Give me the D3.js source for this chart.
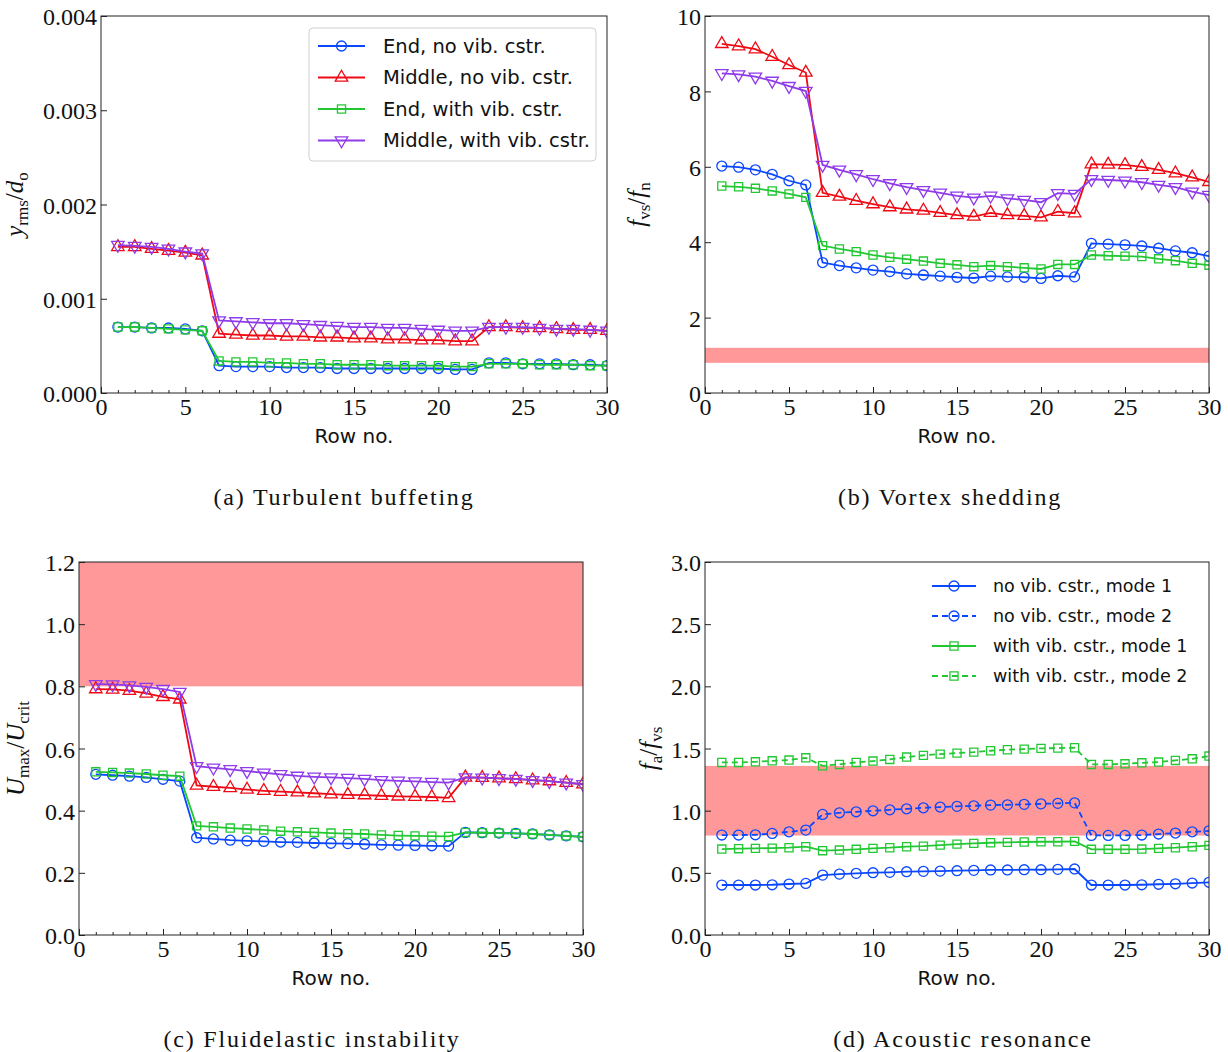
<!DOCTYPE html>
<html>
<head>
<meta charset="utf-8">
<script src="https://cdn.jsdelivr.net/npm/d3@7"></script>
<style>
  body { margin: 0; background: #fff; }
  .tick text { font-family: "Liberation Serif", serif; font-size: 24px; fill: #111; }
  .tick line { stroke: #222; }
</style>
</head>
<body>
<svg id="fig" width="1228" height="1052"></svg>
<script>
const rows = [1,2,3,4,5,6,7,8,9,10,11,12,13,14,15,16,17,18,19,20,21,22,23,24,25,26,27,28,29,30];

// (a) turbulent buffeting, y_rms / d_o
const buffEndNo   = [0.00070,0.00070,0.00069,0.00069,0.00068,0.00066, 0.00029,0.00028,0.00028,0.00028,0.00027,0.00027,0.00027,0.00026,0.00026,0.00026,0.00026,0.00026,0.00026,0.00026,0.00025,0.00025, 0.00032,0.00032,0.00031,0.00031,0.00031,0.00030,0.00030,0.00029];
const buffMidNo   = [0.00155,0.00155,0.00153,0.00151,0.00149,0.00146, 0.00063,0.00062,0.00061,0.00061,0.00060,0.00060,0.00059,0.00059,0.00058,0.00058,0.00057,0.00057,0.00056,0.00056,0.00055,0.00055, 0.00070,0.00070,0.00069,0.00069,0.00068,0.00067,0.00067,0.00066];
const buffEndWith = [0.00070,0.00070,0.00069,0.00068,0.00067,0.00066, 0.00034,0.00033,0.00033,0.00032,0.00032,0.00031,0.00031,0.00030,0.00030,0.00030,0.00029,0.00029,0.00029,0.00029,0.00028,0.00028, 0.00031,0.00031,0.00031,0.00030,0.00030,0.00030,0.00029,0.00029];
const buffMidWith = [0.00157,0.00156,0.00155,0.00153,0.00150,0.00148, 0.00077,0.00076,0.00075,0.00074,0.00074,0.00073,0.00072,0.00071,0.00070,0.00070,0.00069,0.00069,0.00068,0.00067,0.00066,0.00066, 0.00070,0.00070,0.00070,0.00069,0.00068,0.00068,0.00067,0.00066];

// (b) vortex shedding, f_vs / f_n
const vsEndNo   = [6.02,5.99,5.92,5.80,5.63,5.52, 3.46,3.38,3.32,3.26,3.22,3.16,3.13,3.10,3.07,3.05,3.10,3.08,3.07,3.04,3.11,3.08, 3.97,3.95,3.93,3.90,3.84,3.77,3.72,3.63];
const vsMidNo   = [9.26,9.20,9.12,8.92,8.70,8.50, 5.31,5.21,5.10,5.01,4.93,4.87,4.84,4.78,4.72,4.68,4.78,4.72,4.70,4.66,4.81,4.77, 6.07,6.06,6.05,6.00,5.92,5.83,5.72,5.60];
const vsEndWith = [5.49,5.47,5.43,5.36,5.28,5.19, 3.91,3.82,3.75,3.66,3.60,3.55,3.50,3.44,3.40,3.35,3.38,3.35,3.32,3.29,3.41,3.41, 3.66,3.64,3.63,3.62,3.56,3.51,3.44,3.39];
const vsMidWith = [8.48,8.45,8.39,8.28,8.14,8.01, 6.05,5.92,5.80,5.67,5.56,5.46,5.38,5.31,5.23,5.18,5.23,5.16,5.12,5.06,5.30,5.28, 5.67,5.65,5.63,5.59,5.52,5.46,5.34,5.25];
const vsBand = [0.8, 1.2];

// (c) fluidelastic instability, U_max / U_crit
const feiEndNo   = [0.517,0.514,0.511,0.507,0.501,0.495, 0.313,0.309,0.305,0.303,0.301,0.299,0.298,0.296,0.295,0.294,0.292,0.290,0.289,0.288,0.287,0.286, 0.330,0.329,0.328,0.327,0.325,0.322,0.319,0.316];
const feiMidNo   = [0.791,0.790,0.786,0.777,0.766,0.758, 0.481,0.477,0.473,0.468,0.464,0.461,0.459,0.456,0.453,0.451,0.450,0.448,0.446,0.445,0.444,0.441, 0.507,0.506,0.504,0.502,0.498,0.495,0.490,0.485];
const feiEndWith = [0.525,0.523,0.521,0.518,0.514,0.511, 0.351,0.348,0.344,0.341,0.338,0.334,0.332,0.330,0.328,0.326,0.325,0.322,0.320,0.319,0.318,0.317, 0.330,0.329,0.328,0.327,0.325,0.322,0.319,0.316];
const feiMidWith = [0.807,0.806,0.803,0.798,0.791,0.782, 0.543,0.538,0.533,0.527,0.522,0.517,0.512,0.509,0.507,0.505,0.502,0.498,0.496,0.494,0.492,0.490, 0.507,0.506,0.504,0.502,0.498,0.495,0.490,0.485];
const feiBand = [0.8, 1.2];

// (d) acoustic resonance, f_a / f_vs
const arNoM1   = [0.402,0.402,0.402,0.404,0.410,0.415, 0.482,0.490,0.496,0.501,0.504,0.509,0.512,0.514,0.517,0.520,0.523,0.523,0.525,0.525,0.528,0.531, 0.402,0.402,0.402,0.404,0.408,0.412,0.418,0.424];
const arNoM2   = [0.804,0.804,0.806,0.817,0.830,0.844, 0.970,0.983,0.991,0.999,1.007,1.015,1.023,1.029,1.035,1.039,1.045,1.047,1.051,1.055,1.059,1.063, 0.801,0.801,0.801,0.804,0.812,0.820,0.830,0.838];
const arWithM1 = [0.691,0.694,0.697,0.699,0.702,0.710, 0.678,0.683,0.689,0.697,0.702,0.710,0.715,0.723,0.731,0.737,0.742,0.745,0.748,0.750,0.750,0.753, 0.689,0.689,0.689,0.691,0.697,0.702,0.710,0.721];
const arWithM2 = [1.388,1.388,1.393,1.401,1.407,1.425, 1.361,1.372,1.388,1.399,1.412,1.431,1.445,1.455,1.463,1.471,1.482,1.490,1.495,1.501,1.503,1.506, 1.372,1.372,1.377,1.385,1.391,1.404,1.417,1.439];
const arBand = [0.8, 1.36];

const xTicks = [0, 5, 10, 15, 20, 25, 30];
const buffTicks = [0, 0.001, 0.002, 0.003, 0.004];
const vsTicks = [0, 2, 4, 6, 8, 10];
const feiTicks = [0, 0.2, 0.4, 0.6, 0.8, 1.0, 1.2];
const arTicks = [0, 0.5, 1.0, 1.5, 2.0, 2.5, 3.0];

const legendCases = ['End, no vib. cstr.', 'Middle, no vib. cstr.', 'End, with vib. cstr.', 'Middle, with vib. cstr.'];
const legendModes = ['no vib. cstr., mode 1', 'no vib. cstr., mode 2', 'with vib. cstr., mode 1', 'with vib. cstr., mode 2'];

const BLUE = '#0a47ff', RED = '#ee0a14', GREEN = '#22c832', PURPLE = '#8f3bea', BAND = '#ff9999';

const svg = d3.select('#fig');
const defs = svg.append('defs');

const shapes = {
  circle: d3.symbol(d3.symbolCircle, 78),
  triUp: d3.symbol(d3.symbolTriangle, 68),
  triDown: d3.symbol(d3.symbolTriangle, 68),
  square: d3.symbol(d3.symbolSquare, 66)
};

function drawMarker(g, shape, x, y, color) {
  g.append('path').attr('d', shapes[shape]())
    .attr('transform', `translate(${x},${y})` + (shape === 'triDown' ? ' rotate(180)' : ''))
    .attr('fill', 'none').attr('stroke', color).attr('stroke-width', 1.3);
}

function mathLabel(g, parts) {
  // each part: [text, kind] - 'i' italic, 'sub' subscript, 'after' back to baseline
  const t = g.append('text').attr('font-family', '"Liberation Serif", serif').attr('font-size', 25).attr('fill', '#111');
  parts.forEach(([s, kind]) => {
    const sp = t.append('tspan').text(s);
    if (kind === 'i') sp.attr('font-style', 'italic');
    if (kind === 'sub') sp.attr('font-size', 17).attr('dy', 5);
    if (kind === 'after') sp.attr('dy', -5);
  });
  return t;
}

function drawPanel(p) {
  const g = svg.append('g').attr('transform', `translate(${p.left},${p.top})`);
  const x = d3.scaleLinear().domain([0, 30]).range([0, p.width]);
  const y = d3.scaleLinear().domain(p.yDomain).range([p.height, 0]);

  const clipId = 'clip-' + p.id;
  defs.append('clipPath').attr('id', clipId).append('rect').attr('width', p.width).attr('height', p.height);
  const plot = g.append('g').attr('clip-path', `url(#${clipId})`);

  if (p.band) {
    plot.append('rect').attr('x', 0).attr('width', p.width)
      .attr('y', y(p.band[1])).attr('height', y(p.band[0]) - y(p.band[1]))
      .attr('fill', BAND);
  }

  const line = d3.line().x((d, i) => x(rows[i])).y(d => y(d));
  p.series.forEach(s => {
    plot.append('path').datum(s.values).attr('d', line)
      .attr('fill', 'none').attr('stroke', s.color).attr('stroke-width', 1.8)
      .attr('stroke-dasharray', s.dash ? '6,4' : null);
    const mg = plot.append('g');
    s.values.forEach((v, i) => drawMarker(mg, s.shape, x(rows[i]), y(v), s.color));
  });

  // axes, ticks pointing inwards
  const xAxis = g.append('g').attr('transform', `translate(0,${p.height})`)
    .call(d3.axisBottom(x).tickValues(xTicks).tickFormat(d3.format('d')).tickSizeInner(-6).tickSizeOuter(0).tickPadding(5));
  xAxis.select('.domain').remove();
  const xMinor = g.append('g').attr('transform', `translate(0,${p.height})`)
    .call(d3.axisBottom(x).tickValues(rows.filter(r => r % 5 !== 0)).tickFormat('').tickSizeInner(-3).tickSizeOuter(0));
  xMinor.select('.domain').remove();

  const yAxis = g.append('g')
    .call(d3.axisLeft(y).tickValues(p.yTicks).tickFormat(d3.format(p.yFmt)).tickSizeInner(-6).tickSizeOuter(0).tickPadding(4));
  yAxis.select('.domain').remove();
  yAxis.selectAll('.tick text').attr('dy', '0.36em');

  g.append('rect').attr('width', p.width).attr('height', p.height)
    .attr('fill', 'none').attr('stroke', '#222').attr('stroke-width', 1);

  g.append('text').attr('x', p.width / 2).attr('y', p.height + 50)
    .attr('text-anchor', 'middle').attr('font-family', '"DejaVu Sans", sans-serif').attr('font-size', 20)
    .attr('fill', '#111').text('Row no.');

  mathLabel(g, p.yLabel)
    .attr('text-anchor', 'middle')
    .attr('transform', `translate(${p.yLabelX},${p.height / 2}) rotate(-90)`);

  svg.append('text').attr('x', p.captionX).attr('y', p.top + p.height + 112)
    .attr('text-anchor', 'middle').attr('font-family', '"Liberation Serif", serif')
    .attr('font-size', 24).attr('letter-spacing', 1.8).attr('fill', '#111').text(p.caption);

  if (p.legend) {
    const L = p.legend;
    const lg = g.append('g').attr('transform', `translate(${L.x},${L.y})`);
    if (L.frame) {
      lg.append('rect').attr('x', 0).attr('y', 0).attr('width', L.w).attr('height', L.h)
        .attr('rx', 4).attr('fill', '#fff').attr('fill-opacity', 0.8).attr('stroke', '#d0d0d0').attr('stroke-width', 1);
    }
    p.series.forEach((s, i) => {
      const cy = L.row0 + i * L.step;
      lg.append('line').attr('x1', L.lx).attr('x2', L.lx + L.lw)
        .attr('y1', cy).attr('y2', cy).attr('stroke', s.color).attr('stroke-width', 1.8)
        .attr('stroke-dasharray', s.dash ? '6,4' : null);
      drawMarker(lg, s.shape, L.lx + L.lw / 2, cy, s.color);
      lg.append('text').attr('x', L.tx).attr('y', cy).attr('dy', '0.35em')
        .attr('font-family', '"DejaVu Sans", sans-serif').attr('font-size', L.fs).attr('fill', '#111')
        .text(L.labels[i]);
    });
  }
}

drawPanel({
  id: 'a', left: 101, top: 16, width: 506, height: 377,
  yDomain: [0, 0.004], yTicks: buffTicks, yFmt: '.3f',
  yLabel: [['y', 'i'], ['rms', 'sub'], ['/', 'after'], ['d', 'i'], ['o', 'sub']], yLabelX: -78,
  caption: '(a) Turbulent buffeting', captionX: 344,
  series: [
    { values: buffEndNo, color: BLUE, shape: 'circle' },
    { values: buffMidNo, color: RED, shape: 'triUp' },
    { values: buffEndWith, color: GREEN, shape: 'square' },
    { values: buffMidWith, color: PURPLE, shape: 'triDown' }
  ],
  legend: { x: 208, y: 12, w: 287, h: 133, frame: true, row0: 18, step: 31.5, lx: 9, lw: 47, tx: 74, fs: 19.5, labels: legendCases }
});

drawPanel({
  id: 'b', left: 705, top: 16, width: 504, height: 377,
  yDomain: [0, 10], yTicks: vsTicks, yFmt: 'd',
  yLabel: [['f', 'i'], ['vs', 'sub'], ['/', 'after'], ['f', 'i'], ['n', 'sub']], yLabelX: -60,
  caption: '(b) Vortex shedding', captionX: 950, band: vsBand,
  series: [
    { values: vsEndNo, color: BLUE, shape: 'circle' },
    { values: vsMidNo, color: RED, shape: 'triUp' },
    { values: vsEndWith, color: GREEN, shape: 'square' },
    { values: vsMidWith, color: PURPLE, shape: 'triDown' }
  ]
});

drawPanel({
  id: 'c', left: 79, top: 562, width: 504, height: 373,
  yDomain: [0, 1.2], yTicks: feiTicks, yFmt: '.1f',
  yLabel: [['U', 'i'], ['max', 'sub'], ['/', 'after'], ['U', 'i'], ['crit', 'sub']], yLabelX: -55,
  caption: '(c) Fluidelastic instability', captionX: 312, band: feiBand,
  series: [
    { values: feiEndNo, color: BLUE, shape: 'circle' },
    { values: feiMidNo, color: RED, shape: 'triUp' },
    { values: feiEndWith, color: GREEN, shape: 'square' },
    { values: feiMidWith, color: PURPLE, shape: 'triDown' }
  ]
});

drawPanel({
  id: 'd', left: 705, top: 562, width: 504, height: 373,
  yDomain: [0, 3.0], yTicks: arTicks, yFmt: '.1f',
  yLabel: [['f', 'i'], ['a', 'sub'], ['/', 'after'], ['f', 'i'], ['vs', 'sub']], yLabelX: -48,
  caption: '(d) Acoustic resonance', captionX: 963, band: arBand,
  series: [
    { values: arNoM1, color: BLUE, shape: 'circle' },
    { values: arNoM2, color: BLUE, shape: 'circle', dash: true },
    { values: arWithM1, color: GREEN, shape: 'square' },
    { values: arWithM2, color: GREEN, shape: 'square', dash: true }
  ],
  legend: { x: 227, y: 8, w: 280, h: 130, frame: false, row0: 16, step: 30, lx: 0, lw: 44, tx: 61, fs: 17.5, labels: legendModes }
});
</script>
</body>
</html>
